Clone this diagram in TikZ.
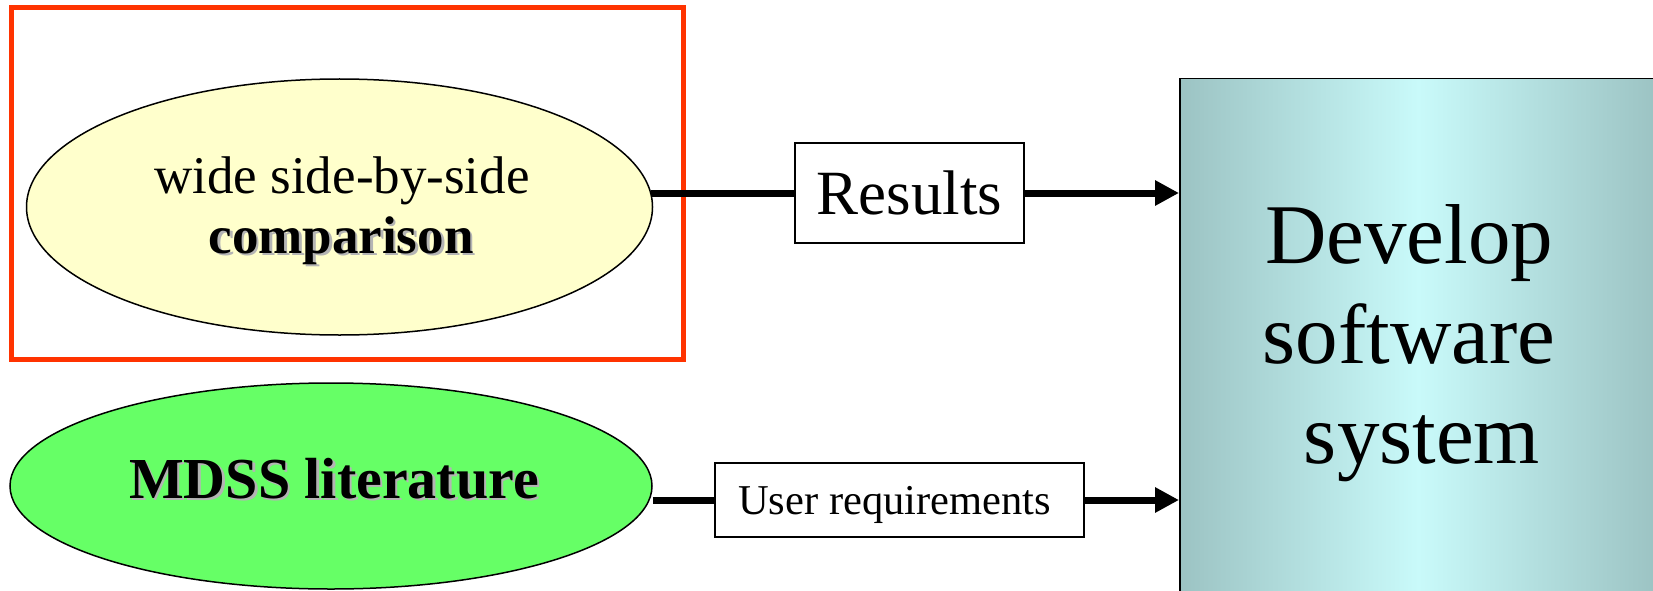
\documentclass[tikz,border=0pt]{standalone}
\usepackage{fontspec}
\setmainfont{Liberation Serif}
\usetikzlibrary{shapes.geometric,arrows.meta}
\definecolor{framered}{HTML}{FF3300}
\definecolor{paleyellow}{HTML}{FFFFCC}
\definecolor{litgreen}{HTML}{66FF66}
\definecolor{tealdark}{HTML}{9CC3C3}
\definecolor{teallight}{HTML}{C9FAFA}
\definecolor{shadowgray}{HTML}{B4B4B4}
% bold caption with a soft grey drop shadow
\newcommand\shadowtext[1]{\makebox[0pt][l]{\hspace{2.5pt}\raisebox{-2.5pt}{\textcolor{shadowgray}{#1}}}#1}

\begin{document}
\begin{tikzpicture}[x=1pt,y=-1pt,
  ovalnode/.style={ellipse,draw=black,line width=1.5pt,inner sep=0pt},
  labelbox/.style={rectangle,draw=black,line width=1.3pt,fill=white,inner sep=0pt,text depth=0pt},
  flow/.style={line width=7pt},
  flowarrow/.style={line width=7pt,-{Triangle[length=24pt,width=24pt]}},
  midtext/.style={anchor=base,font=\fontsize{53}{60}\selectfont},
  bigtext/.style={anchor=base,font=\fontsize{85}{100}\selectfont},
  ]
\useasboundingbox (0,0) rectangle (1653,591);
\fill[white] (0,0) rectangle (1653,591);

% highlight frame round the comparison step
\draw[framered,line width=5pt] (11,7.5) rectangle (683,359);

% inputs
\node[ovalnode,fill=paleyellow,minimum width=626pt,minimum height=256pt] (cmp) at (339.5,207) {};
\node[midtext] (cmpa) at (342,193) {wide side-by-side};
\node[midtext,font=\fontsize{53}{60}\selectfont\bfseries] (cmpb) at (341,253) {\shadowtext{comparison}};

\node[ovalnode,fill=litgreen,minimum width=642pt,minimum height=206pt] (lit) at (331,486) {};
\node[anchor=base,font=\fontsize{58}{66}\selectfont\bfseries] (litt) at (334,498) {\shadowtext{MDSS literature}};

% target process
\node[rectangle,draw=black,line width=1.5pt,anchor=north west,
      minimum width=477pt,minimum height=522pt,inner sep=0pt,
      shading=axis,left color=tealdark,right color=tealdark,middle color=teallight] (dev) at (1179,78) {};
\node[bigtext] (dev1) at (1409,263) {Develop};
\node[bigtext] (dev2) at (1409,363) {software};
\node[bigtext] (dev3) at (1422,463) {system};

% labelled flows
\node[labelbox,minimum width=229pt,minimum height=100pt,text depth=-2pt,font=\fontsize{63}{70}\selectfont] (res) at (909.5,193) {Results};
\node[labelbox,minimum width=369pt,minimum height=74pt,text depth=-2pt,font=\fontsize{42.5}{50}\selectfont] (ur) at (899.5,500) {User requirements\hspace*{10pt}};

\draw[flow] (res.west -| cmp.3) -- (res.west);
\draw[flowarrow] (res.east) -- (res.east -| dev.west);
\draw[flow] (ur.west -| lit.east) -- (ur.west);
\draw[flowarrow] (ur.east) -- (ur.east -| dev.west);
\end{tikzpicture}
\end{document}
